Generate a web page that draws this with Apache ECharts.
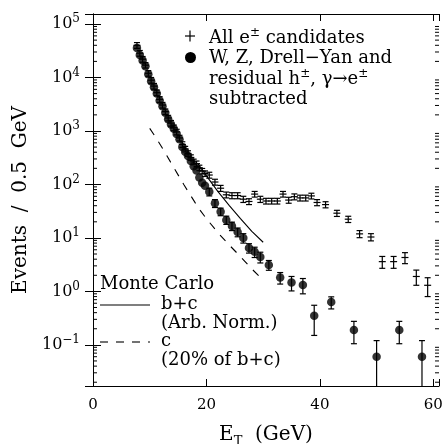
<!DOCTYPE html>
<html><head><meta charset="utf-8">
<script src="https://cdn.jsdelivr.net/npm/echarts@6/dist/echarts.min.js"></script>
<style>html,body{margin:0;padding:0;background:#fff}#c{width:442px;height:444px}</style>
</head><body><div id="c"></div>
<script>
const FONT = 'DejaVu Serif';
const xTicks = [0, 20, 40, 60];
const yDecades = [-1, 0, 1, 2, 3, 4, 5];
const minorMantissa = [2, 3, 4, 5, 6, 7, 8, 9];

// All e± candidates (crosses)
const allE = [7.75, 8.25, 8.75, 9.25, 9.75, 10.25, 10.75, 11.25, 11.75, 12.25, 12.75, 13.25, 13.75, 14.25, 14.75,
  15.25, 15.75, 16.25, 16.75, 17.25, 17.75, 18.25, 18.75, 19.25, 19.75,
  20.5, 21.5, 22.5, 23.5, 24.5, 25.5, 26.5, 27.5, 28.5, 29.5, 30.5, 31.5, 32.5, 33.5, 34.5, 35.5, 36.5, 37.5, 38.5, 39.5,
  41, 43, 45, 47, 49, 51, 53, 55, 57, 59];
const allV = [40000, 28500, 22000, 17000, 12000, 8900, 6900, 5200, 3900, 3050, 2300, 1750, 1400, 1150, 960,
  740, 560, 460, 380, 320, 265, 245, 205, 178, 160,
  150, 111, 85, 64, 62, 62, 53, 48, 66, 53, 49, 49, 49, 66, 51, 59, 56, 56, 61, 46,
  42, 29, 22.4, 11.9, 10.4, 3.6, 3.6, 4.3, 1.9, 1.3];
const allErr = [5000, 3500, 2700, 2000, 1450, 1100, 850, 640, 480, 370, 280, 210, 170, 140, 115,
  90, 68, 55, 46, 38, 32, 29, 24, 21, 19,
  19, 14, 11, 8, 8, 8, 7, 6, 8, 7, 6, 6, 6, 8, 6.5, 7.5, 7, 7, 7.5, 6,
  5.5, 3.8, 3, 1.8, 1.6, 0.9, 0.9, 1.0, 0.6, 0.5];

// W, Z, Drell-Yan and residual h±, γ→e± subtracted (dots)
const subE = [7.75, 8.25, 8.75, 9.25, 9.75, 10.25, 10.75, 11.25, 11.75, 12.25, 12.75, 13.25, 13.75, 14.25, 14.75,
  15.25, 15.75, 16.25, 16.75, 17.25, 17.75, 18.25, 18.75, 19.25, 19.75,
  20.5, 21.5, 22.5, 23.5, 24.5, 25.5, 26.5, 27.5, 28.5, 29.5,
  31, 33, 35, 37, 39, 42, 46, 50, 54, 58];
const subV = [35500, 26300, 20900, 16200, 11500, 8500, 6600, 5000, 3700, 2900, 2200, 1660, 1320, 1100, 880,
  700, 500, 410, 340, 275, 220, 182, 135, 107, 95,
  73, 44.5, 31, 21.7, 16.7, 12.9, 10, 6.5, 5.5, 4.4,
  3.13, 1.81, 1.46, 1.32, 0.35, 0.63, 0.19, 0.06, 0.19, 0.06];
const subErr = [0, 0, 0, 0, 0, 0, 0, 0, 0, 0, 0, 0, 0, 0, 0,
  0, 0, 0, 0, 0, 0, 0, 0, 0, 0,
  12, 7.5, 5, 3.8, 3, 2.4, 2, 1.3, 1.2, 1.0,
  0.65, 0.44, 0.44, 0.42, 0.2, 0.16, 0.085, 0.06, 0.085, 0.06];

// Monte Carlo
const mcBcE = [18.5, 20, 22, 24, 26, 28, 30];
const mcBcV = [245, 145, 74, 40.7, 22.9, 13.2, 8.3];
const mcCE = [10, 11, 12, 13, 14, 15, 16, 17, 18, 19, 20, 22, 24, 26, 28, 30];
const mcCV = [1120, 776, 525, 347, 229, 151, 100, 67.6, 45.7, 31.6, 22.9, 12.6, 7.4, 4.47, 2.63, 1.62];

const Y_MIN = 0.017, Y_MAX = 154000, X_MIN = 0, X_MAX = 61;

const allData = allE.map((e, i) => [e, allV[i], allErr[i]]);
const subData = subE.map((e, i) => [e, subV[i], subErr[i]]);
const bcData = mcBcE.map((e, i) => [e, mcBcV[i]]);
const cData = mcCE.map((e, i) => [e, mcCV[i]]);
const minorVals = [];
for (let k = -2; k <= 5; k++) for (const m of minorMantissa) {
  const v = m * Math.pow(10, k);
  if (v > Y_MIN && v < Y_MAX) minorVals.push([0, v]);
}

const BLACK = '#000';
function ln(x1, y1, x2, y2, w) {
  return {type: 'line', shape: {x1, y1, x2, y2}, style: {stroke: BLACK, lineWidth: w || 1.2}};
}
function barItem(withCross) {
  return function (params, api) {
    const x = api.value(0), v = api.value(1), e = api.value(2);
    const c = api.coord([x, v]);
    const ch = [];
    if (withCross) ch.push(ln(c[0] - 3.5, c[1], c[0] + 3.5, c[1]));
    if (e > 0) {
      const t = api.coord([x, v + e]);
      const b = api.coord([x, Math.max(v - e, 1e-5)]);
      ch.push(ln(c[0], t[1], c[0], b[1]));
      ch.push(ln(c[0] - 3, t[1], c[0] + 3, t[1]));
      if (v - e > 1e-5) ch.push(ln(c[0] - 3, b[1], c[0] + 3, b[1]));
    }
    return {type: 'group', children: ch};
  };
}
function minorItem(params, api) {
  const p = api.coord([0, api.value(1)]);
  const cs = params.coordSys;
  return {type: 'group', children: [
    ln(cs.x, p[1], cs.x + 4, p[1], 1),
    ln(cs.x + cs.width - 4, p[1], cs.x + cs.width, p[1], 1)
  ]};
}

const supRich = {fontFamily: FONT, fontSize: 12, lineHeight: 12, verticalAlign: 'top', fill: BLACK};
function txt(x, y, s) {
  return {type: 'text', x, y, silent: true, style: {
    text: s, fontFamily: FONT, fontSize: 18, fill: BLACK, align: 'left', verticalAlign: 'middle', lineHeight: 22,
    rich: {sup: supRich}
  }};
}

const axisLineStyle = {show: true, lineStyle: {color: BLACK, width: 1}};
const yLabelFmt = v => {
  const e = Math.log10(v), r = Math.round(e);
  if (Math.abs(e - r) > 1e-6 || !yDecades.includes(r)) return '';
  return '{b|10}{s|' + (r < 0 ? '\u2212' + (-r) : r) + '}';
};

const chart = echarts.init(document.getElementById('c'), null, {renderer: 'canvas'});
chart.setOption({
  animation: false,
  backgroundColor: '#fff',
  grid: {left: 93, right: 3, top: 14, bottom: 58, containLabel: false, outerBoundsMode: 'none'},
  xAxis: [{
    type: 'value', min: X_MIN, max: X_MAX, interval: 20, position: 'bottom',
    axisLine: axisLineStyle, axisTick: {inside: true, length: 7, lineStyle: {color: BLACK}},
    splitLine: {show: false},
    axisLabel: {color: BLACK, fontFamily: FONT, fontSize: 15, margin: 12,
      formatter: v => xTicks.includes(v) ? String(v) : ''},
    name: '{e|E}{t|T}{e|  (GeV)}', nameLocation: 'middle', nameGap: 36,
    nameTextStyle: {color: BLACK, fontFamily: FONT, fontSize: 20, lineHeight: 26,
      rich: {e: {fontFamily: FONT, fontSize: 20, lineHeight: 26, color: BLACK},
             t: {fontFamily: FONT, fontSize: 13, lineHeight: 13, verticalAlign: 'bottom', color: BLACK}}}
  }, {
    type: 'value', min: X_MIN, max: X_MAX, interval: 20, position: 'top',
    axisLine: axisLineStyle, axisTick: {inside: true, length: 7, lineStyle: {color: BLACK}},
    splitLine: {show: false}, axisLabel: {show: false}
  }],
  yAxis: [{
    type: 'log', min: Y_MIN, max: Y_MAX, position: 'left',
    axisLine: axisLineStyle, axisTick: {inside: true, length: 8, lineStyle: {color: BLACK}},
    splitLine: {show: false},
    axisLabel: {color: BLACK, margin: 13, formatter: yLabelFmt,
      rich: {b: {fontFamily: FONT, fontSize: 16, lineHeight: 22, color: BLACK},
             s: {fontFamily: FONT, fontSize: 12, lineHeight: 12, verticalAlign: 'top', color: BLACK}}},
    name: 'Events  /  0.5  GeV', nameLocation: 'middle', nameGap: 53,
    nameTextStyle: {color: BLACK, fontFamily: FONT, fontSize: 20}
  }, {
    type: 'log', min: Y_MIN, max: Y_MAX, position: 'right',
    axisLine: axisLineStyle, axisTick: {inside: true, length: 8, lineStyle: {color: BLACK}},
    splitLine: {show: false}, axisLabel: {show: false}
  }],
  series: [
    {type: 'custom', name: 'minor', data: minorVals, renderItem: minorItem, silent: true, z: 1},
    {type: 'line', name: 'b+c', data: bcData, showSymbol: false, symbol: 'none', clip: true,
      lineStyle: {color: BLACK, width: 1.1}, z: 2},
    {type: 'line', name: 'c', data: cData, showSymbol: false, symbol: 'none', clip: true,
      lineStyle: {color: BLACK, width: 1.1, type: [8, 8]}, z: 2},
    {type: 'custom', name: 'All e± candidates', data: allData, renderItem: barItem(true), clip: true, z: 3},
    {type: 'custom', name: 'subtracted errors', data: subData, renderItem: barItem(false), clip: true, z: 4},
    {type: 'scatter', name: 'subtracted', data: subData, symbol: 'circle', symbolSize: 8.5, clip: true,
      itemStyle: {color: BLACK}, z: 5}
  ],
  graphic: [
    ln(185, 36, 195, 36), ln(190, 30.5, 190, 41.5),
    {type: 'circle', shape: {cx: 190.5, cy: 57.5, r: 5.5}, style: {fill: BLACK}},
    txt(209, 38, 'All e{sup|±} candidates'),
    txt(209, 58.5, 'W, Z, Drell\u2212Yan and'),
    txt(209, 79, 'residual h{sup|±}, \u03b3\u2192e{sup|±}'),
    txt(209, 99.5, 'subtracted'),
    txt(100, 284, 'Monte Carlo'),
    ln(100, 305, 150, 305, 1.1),
    {type: 'line', shape: {x1: 100, y1: 342, x2: 150, y2: 342}, style: {stroke: BLACK, lineWidth: 1.1, lineDash: [8, 8]}},
    txt(161, 304, 'b+c'),
    txt(161, 323, '(Arb. Norm.)'),
    txt(161, 341, 'c'),
    txt(161, 360, '(20% of b+c)')
  ]
});
</script></body></html>
